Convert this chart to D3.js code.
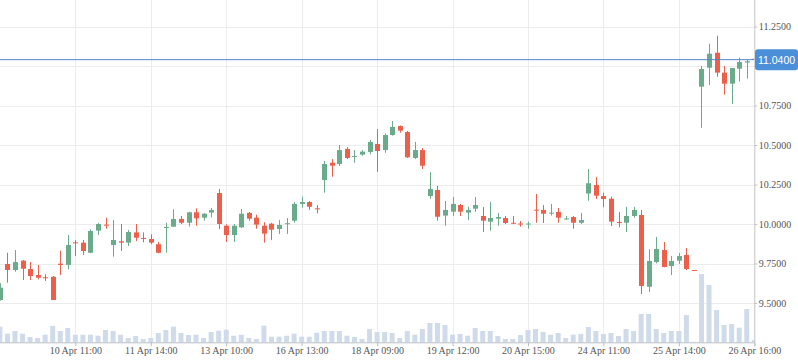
<!DOCTYPE html>
<html><head><meta charset="utf-8">
<script src="https://cdn.jsdelivr.net/npm/d3@7"></script>
<style>html,body{margin:0;padding:0;background:#fff;}svg{display:block;}</style>
</head><body>
<svg id="chart" width="798" height="363"></svg>
<script>
// ---- data (index-based candles, ~hourly) ----
const opens  = [9.519,9.747,9.709,9.768,9.715,9.677,9.663,9.666,9.749,9.741,9.884,9.882,9.818,9.958,9.996,9.867,9.891,9.882,9.947,9.912,9.905,9.872,9.977,9.983,10.032,10.008,10.074,10.040,10.072,10.196,9.989,9.930,9.979,10.070,10.040,9.989,10.002,9.968,10.002,10.021,10.127,10.139,10.099,10.278,10.388,10.380,10.475,10.427,10.439,10.456,10.506,10.468,10.563,10.620,10.582,10.418,10.468,10.177,10.215,10.053,10.078,10.120,10.072,10.097,10.051,10.015,10.034,10.038,10.008,10.003,10.000,10.091,10.089,10.068,10.076,10.032,10.044,10.008,10.193,10.247,10.177,10.160,10.013,10.008,10.051,10.057,9.603,9.759,9.835,9.734,9.768,9.804,9.709,10.869,10.989,11.084,10.958,10.888,10.983,11.022,11.046];
const highs  = [9.625,9.818,9.835,9.772,9.759,9.741,9.682,9.671,9.831,9.930,9.899,9.899,9.966,10.005,10.040,10.025,10.000,9.962,10.000,9.947,9.935,9.886,10.008,10.093,10.051,10.078,10.099,10.068,10.101,10.222,9.998,10.000,10.095,10.076,10.059,10.011,10.008,10.025,10.038,10.139,10.173,10.146,10.120,10.399,10.411,10.500,10.487,10.468,10.468,10.532,10.601,10.572,10.652,10.624,10.589,10.519,10.481,10.329,10.241,10.146,10.171,10.127,10.109,10.171,10.108,10.139,10.070,10.051,10.051,10.019,10.015,10.190,10.120,10.127,10.101,10.051,10.051,10.070,10.348,10.297,10.198,10.173,10.076,10.109,10.109,10.089,9.840,9.918,9.886,9.797,9.816,9.848,9.709,11.000,11.141,11.192,11.000,10.987,11.053,11.038,11.046];
const lows   = [9.515,9.628,9.698,9.646,9.646,9.650,9.639,9.519,9.677,9.713,9.797,9.804,9.815,9.930,9.970,9.793,9.829,9.861,9.892,9.884,9.872,9.815,9.818,9.983,10.000,9.983,9.989,10.021,10.042,9.968,9.886,9.886,9.975,10.021,9.970,9.882,9.899,9.937,9.937,10.008,10.103,10.089,10.068,10.198,10.299,10.367,10.411,10.388,10.432,10.441,10.331,10.451,10.559,10.578,10.418,10.411,10.348,10.160,10.021,9.989,10.051,10.051,10.025,10.076,9.949,9.958,9.989,10.000,10.000,9.983,9.970,10.008,10.006,10.053,10.008,10.027,9.970,10.000,10.147,10.158,10.106,9.987,9.979,9.949,10.040,9.557,9.570,9.751,9.726,9.677,9.747,9.709,9.704,10.609,10.880,10.932,10.818,10.761,10.901,10.920,11.040];
const closes = [9.597,9.709,9.759,9.717,9.671,9.660,9.658,9.519,9.741,9.867,9.878,9.829,9.956,10.000,9.992,9.899,9.882,9.949,9.913,9.908,9.882,9.818,9.981,10.032,10.008,10.074,10.036,10.065,10.089,10.000,9.930,9.989,10.065,10.034,9.996,9.939,9.964,9.994,10.005,10.127,10.139,10.109,10.095,10.380,10.369,10.468,10.418,10.430,10.458,10.519,10.462,10.563,10.614,10.591,10.422,10.468,10.369,10.222,10.046,10.089,10.127,10.078,10.089,10.120,10.021,10.038,10.044,10.006,10.002,10.000,10.003,10.087,10.065,10.072,10.040,10.035,10.008,10.025,10.258,10.179,10.158,10.015,10.006,10.051,10.089,9.608,9.766,9.842,9.728,9.766,9.797,9.715,9.704,10.981,11.078,10.958,10.888,10.987,11.025,11.030,11.040];
const volumes = [15600,8600,11300,8600,5300,4300,7600,16300,11300,14300,7600,7600,7600,6600,12300,11300,7600,4300,6300,3300,4300,9300,12300,15600,9300,7300,7600,4300,10300,11600,12600,6600,7600,4300,3300,16600,5600,5600,6600,8600,5600,5600,9600,11300,11300,11300,6600,5300,3300,13300,10300,10300,9300,4300,11300,7600,13300,19300,19300,17300,7600,8300,6600,14300,11300,11300,6300,3300,3300,7300,12300,13300,10300,7600,9300,4300,7600,8300,15300,11300,8300,9300,6300,13300,11300,28300,28300,13300,9300,11300,11300,27300,500,68300,57300,32300,17300,18300,14600,33300,2300];
const tickIndex  = [10,20,30,40,50,60,70,80,90,100];
const tickLabels = ["10 Apr 11:00","11 Apr 14:00","13 Apr 10:00","16 Apr 13:00","18 Apr 09:00","19 Apr 12:00","20 Apr 15:00","24 Apr 11:00","25 Apr 14:00","26 Apr 16:00"];
const priceTicks = [9.5,9.75,10.0,10.25,10.5,10.75,11.0,11.25];
const lastPrice = 11.04;

// ---- layout ----
const W = 798, H = 363;
const plotRight = 754.3, plotBottom = 342.3;
const svg = d3.select("#chart");

const x = d3.scaleLinear().domain([0, 100]).range([-0.1, plotRight]);
const y = d3.scaleLinear().domain([9.5, 11.25]).range([303, 26.5]);
const yVol = d3.scaleLinear().domain([0, 100000]).range([plotBottom, plotBottom - 100]);

const candles = opens.map((o, i) => ({i, o, h: highs[i], l: lows[i], c: closes[i], v: volumes[i]}));

svg.append("defs").append("clipPath").attr("id", "clip")
  .append("rect").attr("x", 0).attr("y", 0).attr("width", plotRight).attr("height", plotBottom);

// grid
const grid = svg.append("g");
grid.selectAll("line.h").data(priceTicks).join("line")
  .attr("x1", 0).attr("x2", plotRight)
  .attr("y1", d => Math.round(y(d)) + 0.5).attr("y2", d => Math.round(y(d)) + 0.5)
  .attr("stroke", "#ececec").attr("stroke-width", 1);
grid.selectAll("line.v").data(tickIndex.slice(0, -1)).join("line")
  .attr("x1", d => Math.round(x(d)) + 0.5).attr("x2", d => Math.round(x(d)) + 0.5)
  .attr("y1", 0).attr("y2", plotBottom)
  .attr("stroke", "#ececec").attr("stroke-width", 1);

const plot = svg.append("g").attr("clip-path", "url(#clip)");

// volume
plot.selectAll("rect.vol").data(candles).join("rect")
  .attr("x", d => x(d.i) - 2.5).attr("width", 5)
  .attr("y", d => yVol(d.v)).attr("height", d => plotBottom - yVol(d.v))
  .attr("fill", "#cfdbeb");

const green = "#6aab8c", red = "#ec5f4b";
const cg = plot.selectAll("g.candle").data(candles).join("g");
cg.append("line")
  .attr("x1", d => Math.round(x(d.i)) + 0.5).attr("x2", d => Math.round(x(d.i)) + 0.5)
  .attr("y1", d => y(d.h)).attr("y2", d => y(d.l))
  .attr("stroke", d => d.c >= d.o ? green : red).attr("stroke-width", 1);
cg.append("rect")
  .attr("x", d => Math.round(x(d.i)) - 2).attr("width", 5)
  .attr("y", d => Math.min(y(d.o), y(d.c)))
  .attr("height", d => Math.max(1, Math.abs(y(d.o) - y(d.c))))
  .attr("fill", d => d.c >= d.o ? green : red);

// last price line
svg.append("line")
  .attr("x1", 0).attr("x2", plotRight)
  .attr("y1", y(lastPrice)).attr("y2", y(lastPrice))
  .attr("stroke", "#5086c4").attr("stroke-width", 1);

// bottom axis
const xAxis = d3.axisBottom(x).tickValues(tickIndex)
  .tickFormat((d, k) => tickLabels[k]).tickSize(4).tickSizeOuter(0);
const gx = svg.append("g").attr("transform", `translate(0,${plotBottom})`).call(xAxis);
gx.select(".domain").attr("stroke", "#b8bcc4").attr("d", `M0,0.5H${plotRight}`);
gx.selectAll(".tick line").attr("stroke", "#b8bcc4");
gx.selectAll(".tick text").attr("fill", "#555").attr("font-family", "'Liberation Serif', serif")
  .attr("font-size", 10).attr("dy", "0.5em");

// right axis (the 11.0000 label sits under the last-price badge in the reference, so it is not drawn)
const yAxis = d3.axisRight(y).tickValues(priceTicks)
  .tickFormat(d => Math.abs(d - 11.0) < 1e-9 ? "" : d3.format(".4f")(d))
  .tickSize(3).tickSizeOuter(0);
const gy = svg.append("g").attr("transform", `translate(${plotRight},0)`).call(yAxis);
gy.select(".domain").attr("stroke", "#c4c4c4").attr("d", `M0.5,0V${plotBottom + 4}`);
gy.selectAll(".tick line").attr("stroke", "#c4c4c4");
gy.selectAll(".tick text").attr("fill", "#555").attr("font-family", "'Liberation Serif', serif")
  .attr("font-size", 10).attr("x", 4.5);
gy.selectAll(".tick text").filter(function(){ return this.textContent === ""; }).remove();

// last price label
const ly = y(lastPrice);
svg.append("rect").attr("x", 755).attr("y", ly - 10.5).attr("width", 43).attr("height", 21)
  .attr("rx", 3).attr("fill", "#4a8fd8");
svg.append("text").attr("x", 776.5).attr("y", ly).attr("text-anchor", "middle")
  .attr("dominant-baseline", "central").attr("fill", "#fff")
  .attr("font-family", "'Liberation Sans', Arial, sans-serif").attr("font-size", 10.5)
  .text(d3.format(".4f")(lastPrice));
</script>
</body></html>
